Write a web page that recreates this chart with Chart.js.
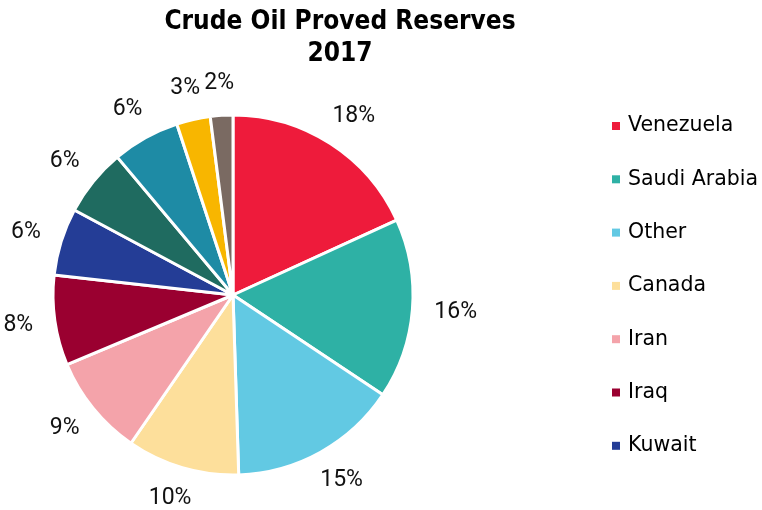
<!DOCTYPE html>
<html>
<head>
<meta charset="utf-8">
<script src="https://cdn.jsdelivr.net/npm/chart.js@4.4.1/dist/chart.umd.min.js"></script>
<style>
    html, body { margin: 0; padding: 0; background: #fff; }
    #grafico { display: block; }
</style>
</head>
<body>
<canvas id="grafico" width="762" height="510"></canvas>
<script>
// dados (% das reservas provadas, 2017)
const paises = ['Venezuela', 'Saudi Arabia', 'Other', 'Canada', 'Iran', 'Iraq', 'Kuwait',
    'United Arab Emirates', 'Russia', 'Libya', 'Nigeria'];
const valores = [18, 16, 15, 10, 9, 8, 6, 6, 6, 3, 2];
const cores = ['#EE1B3B', '#2EB1A5', '#62C9E3', '#FDDF9B', '#F4A3AA', '#9A0030', '#243D96',
    '#1F6B60', '#1E8BA5', '#F8B600', '#7A6A62'];
const titulo = ['Crude Oil Proved Reserves', '2017'];
const itensLegenda = 7; // a legenda original so mostra os 7 primeiros

// titulo desenhado a mao (centro dele nao coincide com o centro da pizza)
const tituloPlugin = {
    id: 'tituloPlugin',
    afterDraw(chart) {
        const ctx = chart.ctx;
        ctx.save();
        ctx.fillStyle = '#000';
        ctx.font = 'bold 26px "DejaVu Sans Condensed", "DejaVu Sans"';
        ctx.textAlign = 'center';
        ctx.textBaseline = 'alphabetic';
        titulo.forEach((linha, i) => {
            ctx.fillText(linha, 340, 29 + i * 32);
        });
        ctx.restore();
    }
};

// rotulos de % fora das fatias (ancorados pela borda mais proxima, tipo Excel)
const rotulosPlugin = {
    id: 'rotulosPlugin',
    afterDatasetsDraw(chart) {
        const ctx = chart.ctx;
        const meta = chart.getDatasetMeta(0);
        ctx.save();
        ctx.fillStyle = '#111';
        ctx.font = '23px "Liberation Sans Narrow", Roboto';
        ctx.textAlign = 'center';
        ctx.textBaseline = 'middle';
        meta.data.forEach((arc, i) => {
            const p = arc.getProps(['x', 'y', 'startAngle', 'endAngle', 'outerRadius'], true);
            const meio = (p.startAngle + p.endAngle) / 2;
            const texto = valores[i] + '%';
            const w = ctx.measureText(texto).width;
            const h = 20;
            const r = p.outerRadius + 22;
            const cx = p.x + Math.cos(meio) * r + Math.cos(meio) * w / 2;
            const cy = p.y + Math.sin(meio) * r + Math.sin(meio) * h / 2;
            ctx.fillText(texto, cx, cy);
        });
        ctx.restore();
    }
};

// legenda a direita
const legendaPlugin = {
    id: 'legendaPlugin',
    afterDraw(chart) {
        const ctx = chart.ctx;
        ctx.save();
        ctx.font = '20.5px "DejaVu Sans"';
        ctx.textAlign = 'left';
        ctx.textBaseline = 'middle';
        for (let i = 0; i < itensLegenda; i++) {
            const y = 126 + i * 53.3;
            ctx.fillStyle = cores[i];
            ctx.fillRect(612, y - 4, 8, 8);
            ctx.fillStyle = '#000';
            ctx.fillText(paises[i], 628, y);
        }
        ctx.restore();
    }
};

document.addEventListener('DOMContentLoaded', () => {
    const ctx = document.getElementById('grafico').getContext('2d');
    new Chart(ctx, {
        type: 'pie',
        data: {
            labels: paises,
            datasets: [{
                data: valores,
                backgroundColor: cores,
                borderColor: '#fff',
                borderWidth: 3
            }]
        },
        options: {
            responsive: false,
            animation: false,
            devicePixelRatio: 1,
            radius: 180,
            layout: { padding: { top: 115, bottom: 35, left: 0, right: 296 } },
            plugins: {
                legend: { display: false },
                title: { display: false },
                tooltip: { enabled: false }
            }
        },
        plugins: [tituloPlugin, rotulosPlugin, legendaPlugin]
    });
});
</script>
</body>
</html>
